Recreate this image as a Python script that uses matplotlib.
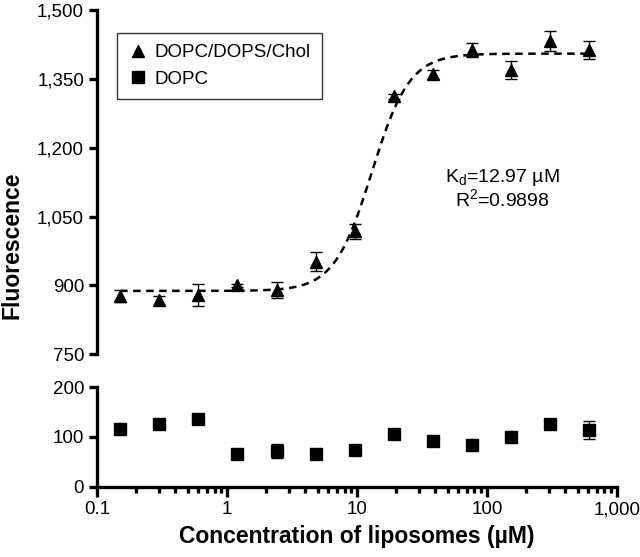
import numpy as np
import matplotlib
matplotlib.use("Agg")
import matplotlib.pyplot as plt
from matplotlib.ticker import FuncFormatter, LogLocator, FixedLocator
from matplotlib.lines import Line2D

plt.rcParams['font.family'] = ['Liberation Sans', 'DejaVu Sans']

# concentrations (uM)
conc = [0.15, 0.3, 0.6, 1.2, 2.4, 4.8, 9.6, 19.2, 38.4, 76.8, 153.6, 307.2, 614.4]

# DOPC/DOPS/Chol
mix_val = [877, 868, 880, 900, 890, 952, 1018, 1312, 1360, 1413, 1370, 1432, 1413]
mix_err = [14, 10, 24, 4, 18, 20, 16, 6, 10, 16, 20, 22, 20]

# DOPC
dopc_val = [116, 126, 136, 66, 71, 66, 74, 105, 92, 84, 100, 127, 114]
dopc_err = [3, 3, 3, 3, 14, 3, 3, 3, 3, 3, 3, 10, 18]

# fitted curve parameters
bottom, top, kd, hill = 888, 1405, 12.97, 3.0

fig = plt.figure(figsize=(6.4, 5.57), dpi=100)
ax1 = fig.add_axes([0.152, 0.364, 0.812, 0.618])
ax2 = fig.add_axes([0.152, 0.126, 0.812, 0.179])

xf = np.logspace(np.log10(0.15), np.log10(614.4), 300)
yf = bottom + (top - bottom) * xf**hill / (kd**hill + xf**hill)
ax1.plot(xf, yf, ls=(0, (3, 2.2)), color='black', lw=1.8, zorder=2)
ax1.errorbar(conc, mix_val, yerr=mix_err, fmt='^', color='black', ms=8.5,
             capsize=4, elinewidth=1, capthick=1, zorder=3)

ax2.errorbar(conc, dopc_val, yerr=dopc_err, fmt='s', color='black', ms=8.5,
             capsize=4, elinewidth=1, capthick=1)

for ax in (ax1, ax2):
    ax.set_xscale('log')
    ax.set_xlim(0.1, 1000)
    ax.spines['top'].set_visible(False)
    ax.spines['right'].set_visible(False)
    ax.spines['left'].set_linewidth(2.4)
    ax.spines['bottom'].set_linewidth(2.4)
    ax.tick_params(axis='y', width=2.4, length=6, labelsize=13.5, direction='out')

ax1.set_ylim(750, 1500)
ax1.yaxis.set_major_locator(FixedLocator([750, 900, 1050, 1200, 1350, 1500]))
ax1.yaxis.set_major_formatter(FuncFormatter(lambda v, p: f'{int(v):,}'))
ax1.spines['bottom'].set_visible(False)
ax1.tick_params(axis='x', which='both', bottom=False, labelbottom=False)

ax2.set_ylim(0, 200)
ax2.yaxis.set_major_locator(FixedLocator([0, 100, 200]))
ax2.xaxis.set_major_locator(LogLocator(base=10, numticks=10))
ax2.xaxis.set_minor_locator(LogLocator(base=10, subs=np.arange(2, 10), numticks=10))
ax2.xaxis.set_major_formatter(FuncFormatter(lambda v, p: '0.1' if v < 1 else f'{int(round(v)):,}'))
ax2.tick_params(axis='x', which='major', width=2.4, length=7, labelsize=13.5)
ax2.tick_params(axis='x', which='minor', width=2.4, length=4)

for ax in (ax1, ax2):
    ax.spines['left'].set_bounds(*ax.get_ylim())

ax2.set_xlabel('Concentration of liposomes (\u00b5M)', fontsize=16.5, fontweight='bold', labelpad=5)
fig.text(0.018, 0.56, 'Fluorescence', rotation=90, fontsize=16.5, fontweight='bold',
         ha='center', va='center')

handles = [Line2D([], [], ls='none', marker='^', color='black', ms=8.5),
           Line2D([], [], ls='none', marker='s', color='black', ms=8)]
leg = ax1.legend(handles, ['DOPC/DOPS/Chol', 'DOPC'], loc='upper left',
                 bbox_to_anchor=(0.038, 0.933), borderaxespad=0, fontsize=13.5,
                 frameon=True, fancybox=False, edgecolor='black', handletextpad=0.4,
                 borderpad=0.6, handlelength=1.0, labelspacing=0.5)
leg.get_frame().set_linewidth(1.0)

ax1.text(0.78, 0.48, 'K$_\\mathregular{d}$=12.97 \u00b5M\nR$^\\mathregular{2}$=0.9898',
         transform=ax1.transAxes, ha='center', va='center', fontsize=14, linespacing=1.0)

fig.savefig('out.png', dpi=100)
